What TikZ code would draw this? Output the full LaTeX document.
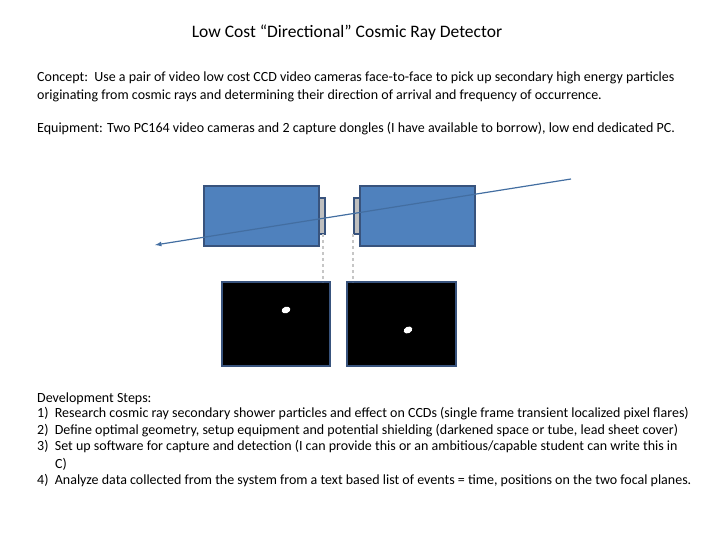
\documentclass[tikz,border=0pt]{standalone}
\usepackage{fontspec}
\setmainfont{Carlito}
\definecolor{camblue}{RGB}{79,129,189}
\definecolor{camedge}{RGB}{56,83,125}
\begin{document}
\begin{tikzpicture}[x=1pt,y=-1pt,
  txt/.style={anchor=west,inner sep=0pt,font=\fontsize{14}{16}\selectfont},
  cam/.style={draw=camedge,line width=2pt,fill=camblue},
  lens/.style={draw=camedge,line width=1.5pt,fill=gray!50},
  scr/.style={draw=camedge,line width=2pt,fill=black}]
\useasboundingbox (0,0) rectangle (720,540);
\node[inner sep=0pt,font=\fontsize{17.5}{19}\selectfont] (title) at (347,33) {Low Cost “Directional” Cosmic Ray Detector};
\node[txt] (c1) at (37,78) {Concept:\ \ Use a pair of video low cost CCD video cameras face-to-face to pick up secondary high energy particles};
\node[txt] (c2) at (37,96) {originating from cosmic rays and determining their direction of arrival and frequency of occurrence.};
\node[txt] (e1) at (37,129) {Equipment: Two PC164 video cameras and 2 capture dongles (I have available to borrow), low end dedicated PC.};
\draw[cam] (204,186) rectangle (319,246);
\draw[lens] (319,198) rectangle (325,234);
\draw[lens] (354,198) rectangle (360,234);
\draw[cam] (360,186) rectangle (475,246);
\draw[scr] (222,282) rectangle (330,366);
\draw[scr] (347,282) rectangle (456,366);
\draw[gray!45,line width=1.5pt,dashed] (323,234) -- (323,282);
\draw[gray!45,line width=1.5pt,dashed] (353,234) -- (353,282);
\fill[white,rotate around={20:(286,310)}] (286,310) ellipse (4.5 and 3.2);
\fill[white,rotate around={25:(408,330)}] (408,330) ellipse (4.5 and 3.2);
\coordinate (ps) at (571,179);
\coordinate (pe) at (155,245);
\draw[camblue!85!black,line width=1.2pt,-latex] (ps) -- (pe);
\node[txt] (d0) at (37,399) {Development Steps:};
\node[txt] (d1) at (37,414) {1)\ \ Research cosmic ray secondary shower particles and effect on CCDs (single frame transient localized pixel flares)};
\node[txt] (d2) at (37,431) {2)\ \ Define optimal geometry, setup equipment and potential shielding (darkened space or tube, lead sheet cover)};
\node[txt] (d3) at (37,447) {3)\ \ Set up software for capture and detection (I can provide this or an ambitious/capable student can write this in};
\node[txt] (d3b) at (55,464) {C)};
\node[txt] (d4) at (37,481) {4)\ \ Analyze data collected from the system from a text based list of events = time, positions on the two focal planes.};
\end{tikzpicture}
\end{document}
